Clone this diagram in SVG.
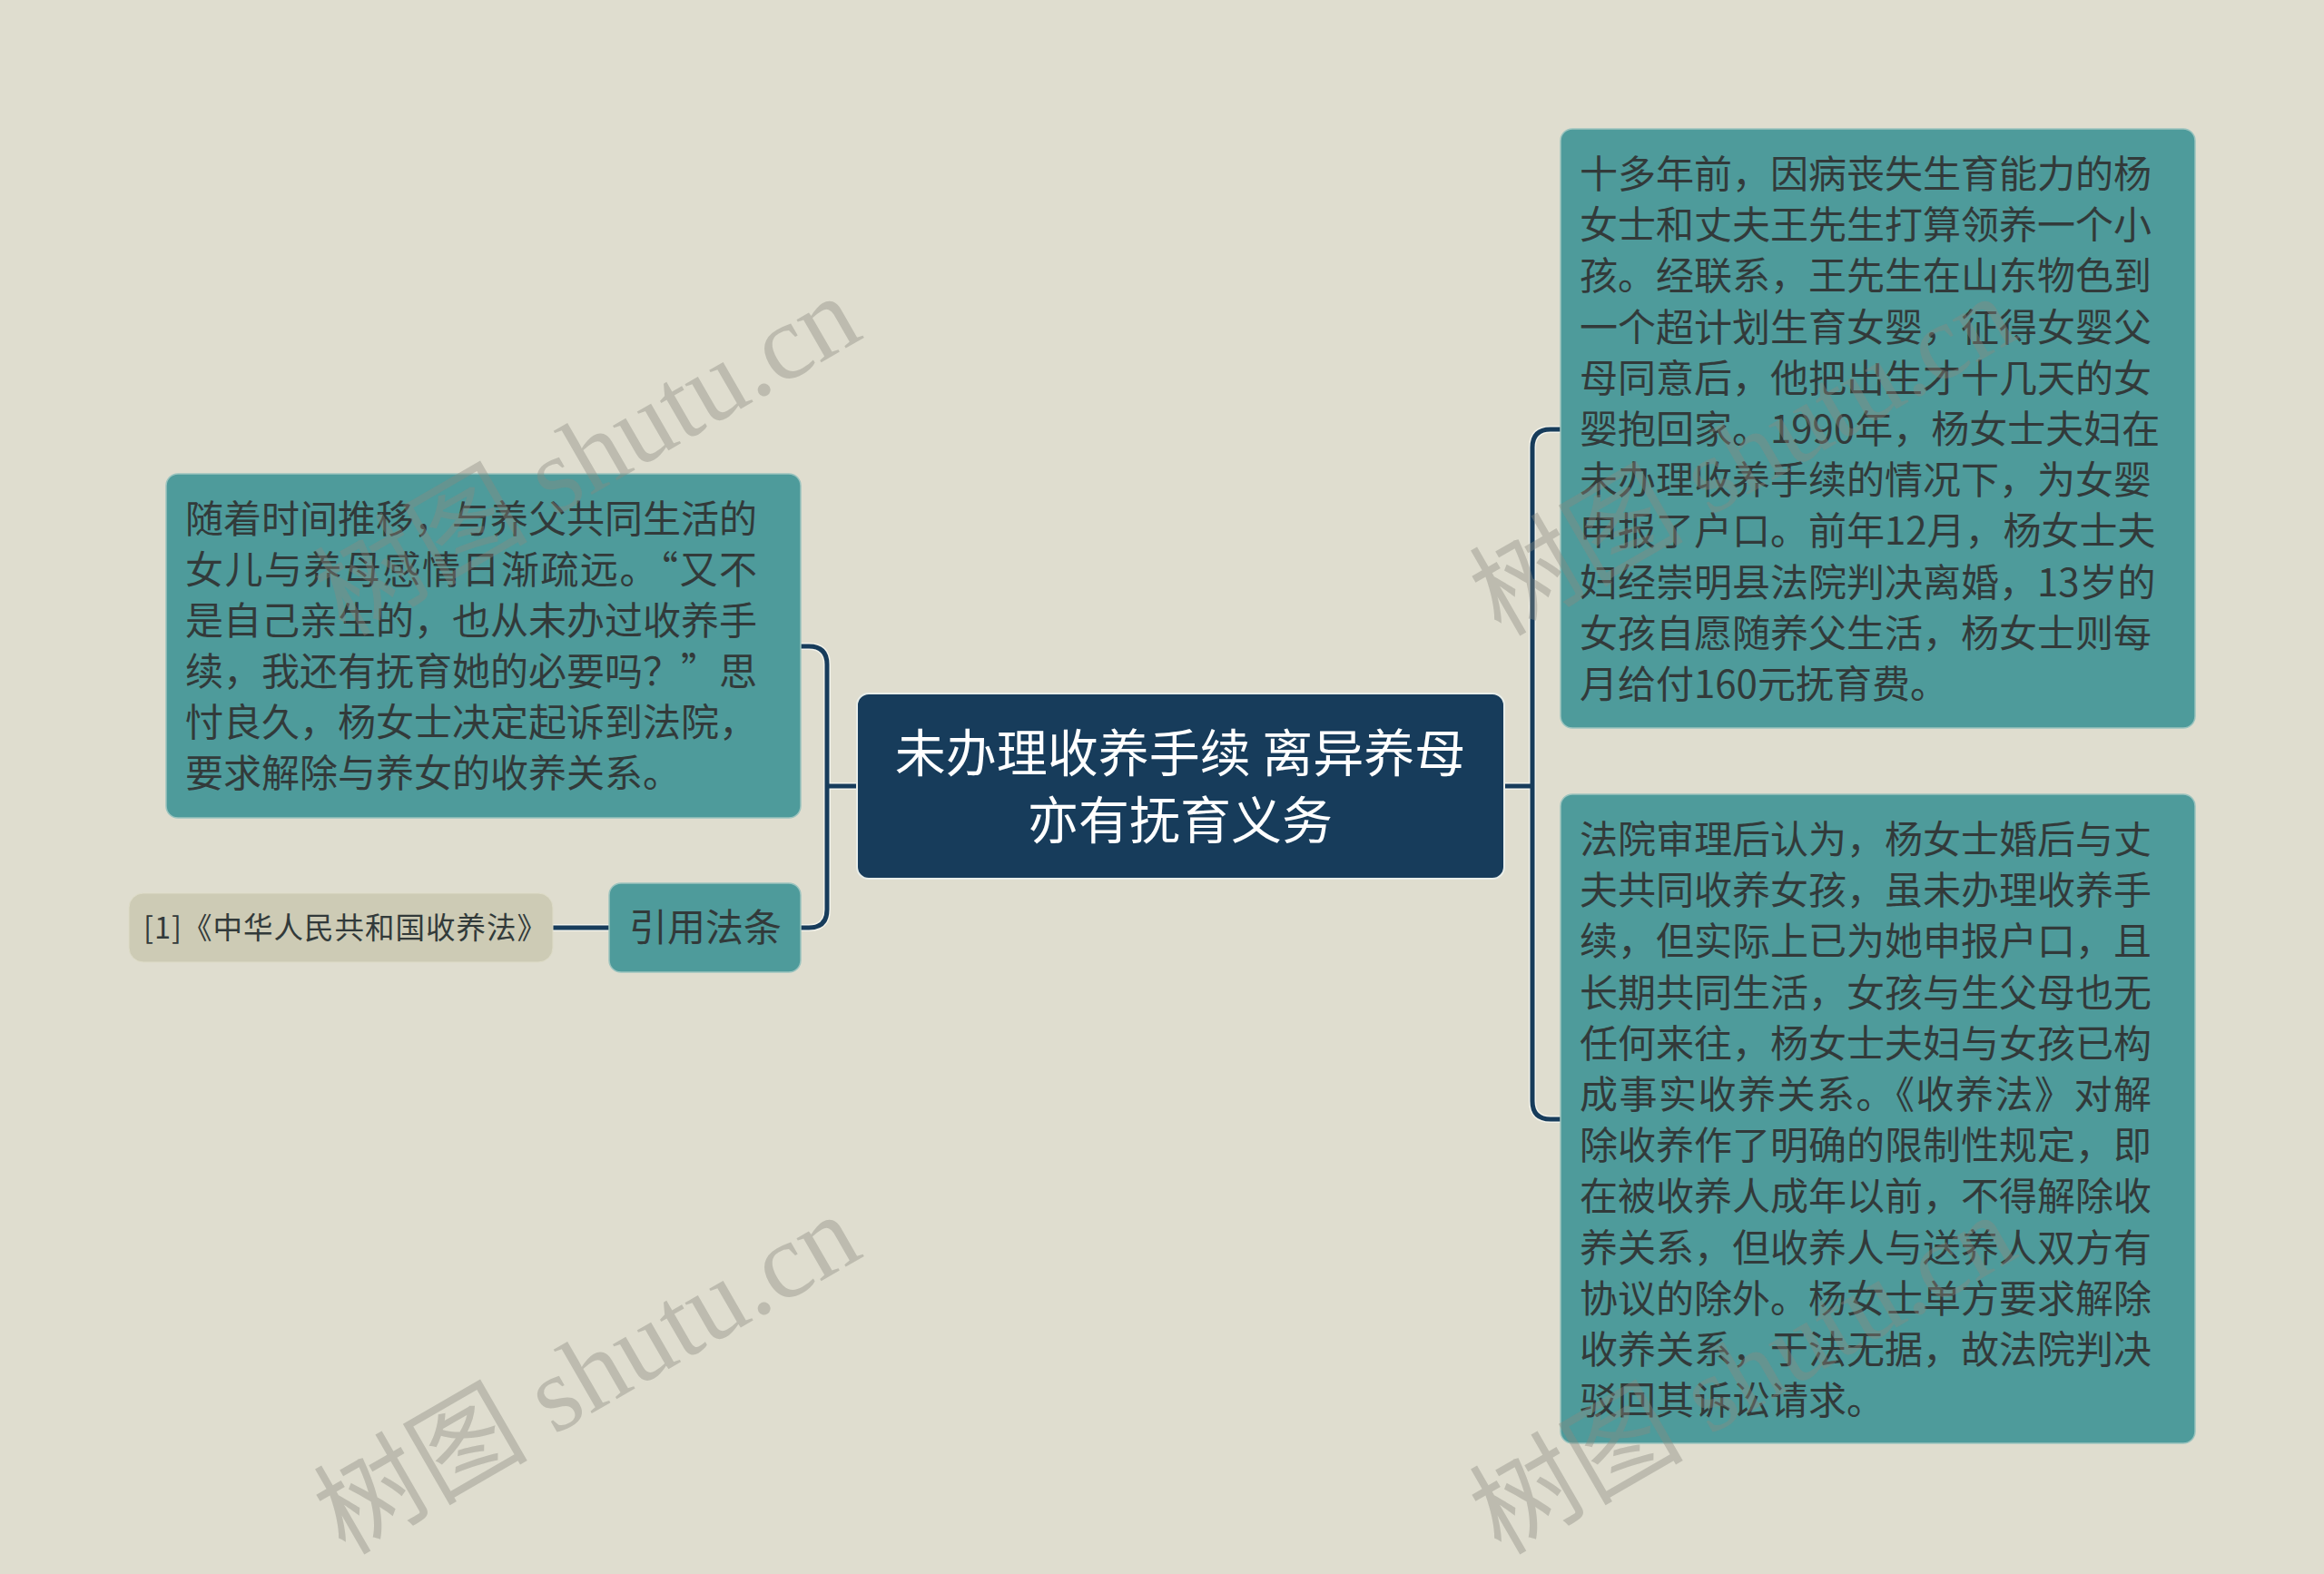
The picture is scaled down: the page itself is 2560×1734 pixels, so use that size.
<svg xmlns="http://www.w3.org/2000/svg" width="2560" height="1734" viewBox="0 0 2560 1734">
<style>
.bg{fill:#dfddcf}
.teal{fill:#4e9b9b;stroke:#9cc4bf;stroke-width:1.5}
.root{fill:#173c5b;stroke:#e9eeea;stroke-width:2}
.tan{fill:#cdcbb5;stroke:#dedcc8;stroke-width:1}
.t{font-family:"Noto Sans CJK SC","Noto Sans",sans-serif;font-size:42px;fill:#323a3a}
.rt{font-family:"Noto Sans CJK SC","Noto Sans",sans-serif;font-size:56px;fill:#ffffff;text-anchor:middle}
.small{font-family:"Noto Sans CJK SC","Noto Sans",sans-serif;font-size:32.5px;letter-spacing:1px;fill:#323a3a}
.halo{fill:none;stroke:#f2f2ea;stroke-width:8;stroke-linecap:round;stroke-linejoin:round}
.line{fill:none;stroke:#173c5b;stroke-width:5;stroke-linecap:round;stroke-linejoin:round}
.wm{font-family:"Liberation Serif","Noto Sans CJK SC",serif;font-size:118px;fill:#8a8a80;fill-opacity:0.4}
</style>
<rect class="bg" x="0" y="0" width="2560" height="1734"/>

<g id="connectors">
  <path class="halo" d="M944 866 H911 M882 712 H891 Q911 712 911 732 V1002 Q911 1022 891 1022 H882 M609 1022 H671 M1657 866 H1688 M1719 473 H1708 Q1688 473 1688 493 V1213 Q1688 1233 1708 1233 H1719"/>
  <path class="line" d="M944 866 H911 M882 712 H891 Q911 712 911 732 V1002 Q911 1022 891 1022 H882 M609 1022 H671 M1657 866 H1688 M1719 473 H1708 Q1688 473 1688 493 V1213 Q1688 1233 1708 1233 H1719"/>
</g>

<g id="root">
  <rect class="root" x="944" y="764" width="713" height="204" rx="13"/>
  <text class="rt"><tspan x="1300" y="850">未办理收养手续 离异养母</tspan><tspan x="1300" y="924">亦有抚育义务</tspan></text>
</g>

<g id="node-left-1">
  <rect class="teal" x="183" y="522" width="699" height="379" rx="13"/>
  <text class="t">
    <tspan x="204" y="587">随着时间推移，与养父共同生活的</tspan>
    <tspan x="204" y="643" textLength="630" lengthAdjust="spacing">女儿与养母感情日渐疏远。“又不</tspan>
    <tspan x="204" y="699">是自己亲生的，也从未办过收养手</tspan>
    <tspan x="204" y="755" textLength="630" lengthAdjust="spacing">续，我还有抚育她的必要吗？”思</tspan>
    <tspan x="204" y="811">忖良久，杨女士决定起诉到法院，</tspan>
    <tspan x="204" y="867">要求解除与养女的收养关系。</tspan>
  </text>
</g>

<g id="node-cite">
  <rect class="teal" x="671" y="973" width="211" height="98" rx="13"/>
  <text class="t" x="777" y="1037" text-anchor="middle">引用法条</text>
</g>

<g id="node-law">
  <rect class="tan" x="142" y="984" width="467" height="76" rx="16"/>
  <text class="small" x="158" y="1034">[1]《中华人民共和国收养法》</text>
</g>

<g id="node-right-1">
  <rect class="teal" x="1719" y="142" width="699" height="660" rx="13"/>
  <text class="t">
    <tspan x="1740" y="207">十多年前，因病丧失生育能力的杨</tspan>
    <tspan x="1740" y="263.2">女士和丈夫王先生打算领养一个小</tspan>
    <tspan x="1740" y="319.4">孩。经联系，王先生在山东物色到</tspan>
    <tspan x="1740" y="375.6">一个超计划生育女婴，征得女婴父</tspan>
    <tspan x="1740" y="431.8">母同意后，他把出生才十几天的女</tspan>
    <tspan x="1740" y="488">婴抱回家。1990年，杨女士夫妇在</tspan>
    <tspan x="1740" y="544.2">未办理收养手续的情况下，为女婴</tspan>
    <tspan x="1740" y="600.4">申报了户口。前年12月，杨女士夫</tspan>
    <tspan x="1740" y="656.6">妇经崇明县法院判决离婚，13岁的</tspan>
    <tspan x="1740" y="712.8">女孩自愿随养父生活，杨女士则每</tspan>
    <tspan x="1740" y="769">月给付160元抚育费。</tspan>
  </text>
</g>

<g id="node-right-2">
  <rect class="teal" x="1719" y="875" width="699" height="715" rx="13"/>
  <text class="t">
    <tspan x="1740" y="940">法院审理后认为，杨女士婚后与丈</tspan>
    <tspan x="1740" y="996.2">夫共同收养女孩，虽未办理收养手</tspan>
    <tspan x="1740" y="1052.4">续，但实际上已为她申报户口，且</tspan>
    <tspan x="1740" y="1108.6">长期共同生活，女孩与生父母也无</tspan>
    <tspan x="1740" y="1164.8">任何来往，杨女士夫妇与女孩已构</tspan>
    <tspan x="1740" y="1221" textLength="630" lengthAdjust="spacing">成事实收养关系。《收养法》对解</tspan>
    <tspan x="1740" y="1277.2">除收养作了明确的限制性规定，即</tspan>
    <tspan x="1740" y="1333.4">在被收养人成年以前，不得解除收</tspan>
    <tspan x="1740" y="1389.6">养关系，但收养人与送养人双方有</tspan>
    <tspan x="1740" y="1445.8">协议的除外。杨女士单方要求解除</tspan>
    <tspan x="1740" y="1502">收养关系，于法无据，故法院判决</tspan>
    <tspan x="1740" y="1558.2">驳回其诉讼请求。</tspan>
  </text>
</g>

<g id="watermarks">
  <text class="wm" transform="translate(380 702) rotate(-30)">树图 shutu.cn</text>
  <text class="wm" transform="translate(380 1714) rotate(-30)">树图 shutu.cn</text>
  <text class="wm" transform="translate(1653 702) rotate(-30)">树图 shutu.cn</text>
  <text class="wm" transform="translate(1653 1714) rotate(-30)">树图 shutu.cn</text>
</g>
</svg>
